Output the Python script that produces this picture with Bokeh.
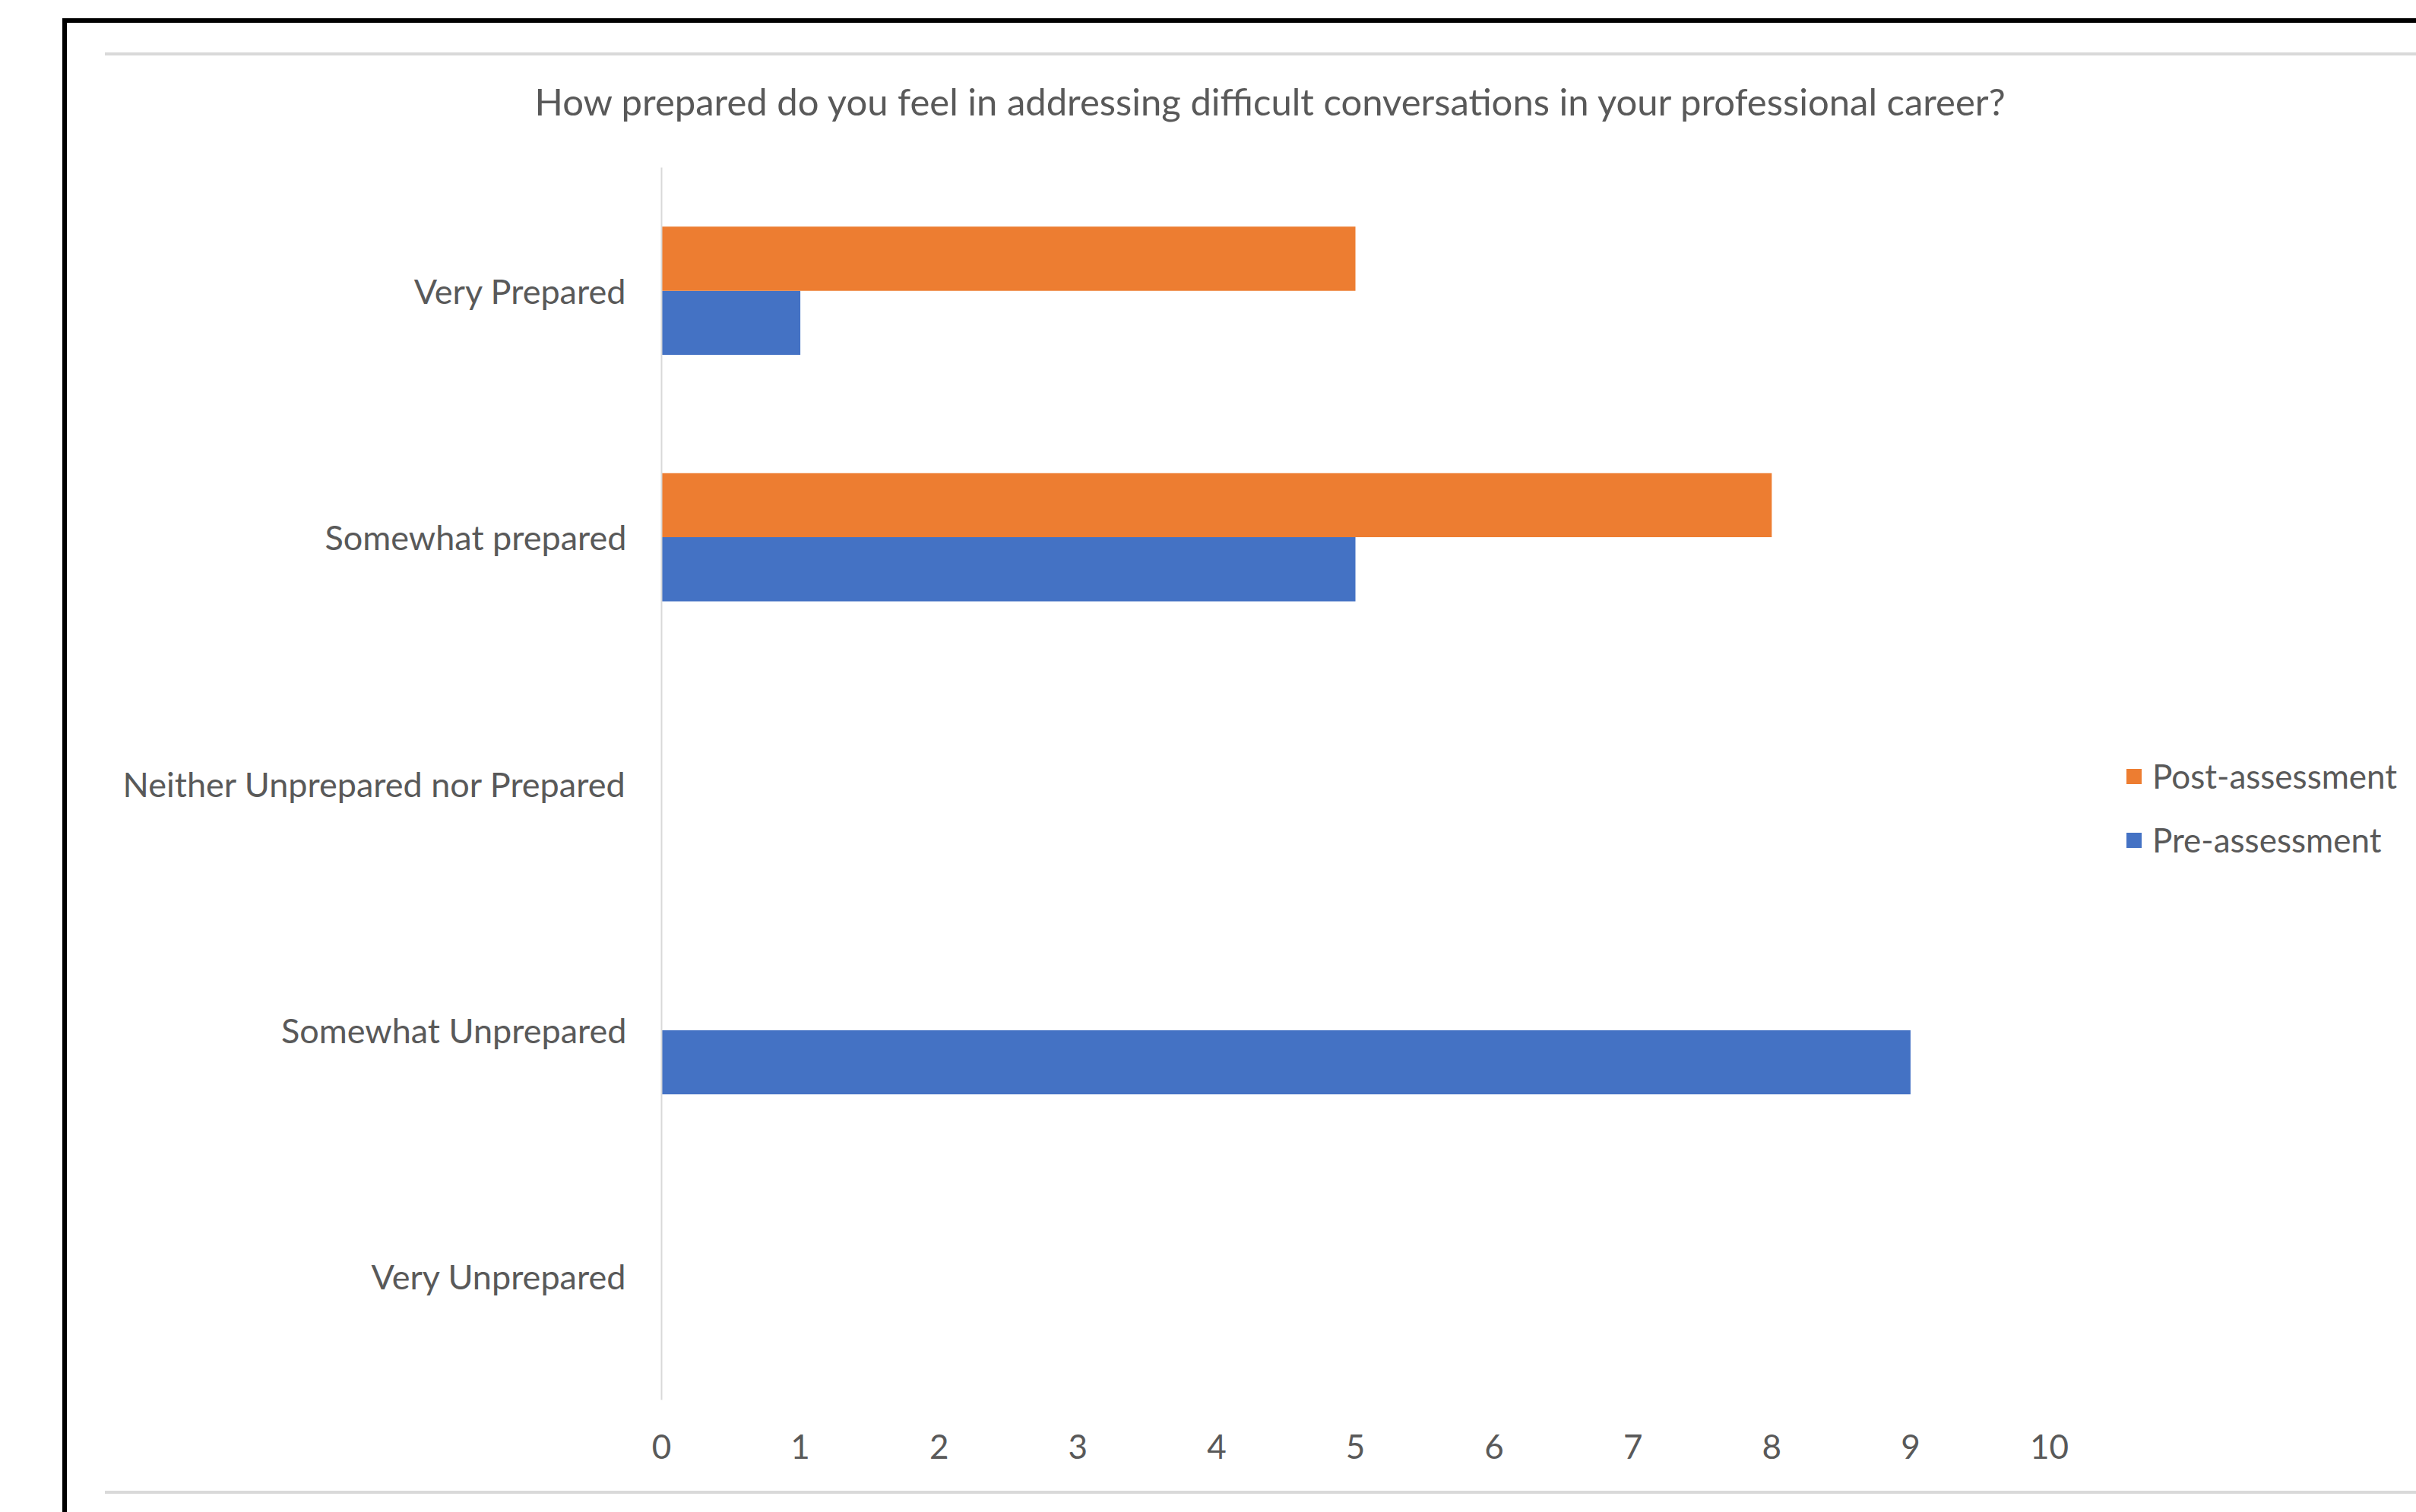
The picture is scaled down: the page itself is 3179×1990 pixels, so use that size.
from bokeh.plotting import figure
from bokeh.models import (FactorRange, Range1d, FixedTicker, Legend, LegendItem,
                          ColumnDataSource)
from bokeh.transform import dodge
from bokeh.embed import file_html
from bokeh.resources import INLINE

# ---- data ----
categories = ["Very Unprepared", "Somewhat Unprepared",
              "Neither Unprepared nor Prepared", "Somewhat prepared", "Very Prepared"]
pre_assessment = [0, 9, 0, 5, 1]
post_assessment = [0, 0, 0, 8, 5]
x_ticks = [0, 1, 2, 3, 4, 5, 6, 7, 8, 9, 10]
series_names = ["Post-assessment", "Pre-assessment"]
title_text = "How prepared do you feel in addressing difficult conversations in your professional career?"

FONT = "Lato"
TXT = "#595959"
BLUE = "#4472C4"
ORANGE = "#ED7D31"

W, H = 3179, 1990
FRAME_L, FRAME_T, FRAME_B = 870, 220, 1842
PX_PER_UNIT = 182.6
x_end = (W - FRAME_L) / PX_PER_UNIT

src = ColumnDataSource(dict(cat=categories, pre=pre_assessment, post=post_assessment))

# decorative frame of the original screenshot, painted as the element background
bg_styles = {
    "background-color": "white",
    "background-image": ("linear-gradient(#000000, #000000), linear-gradient(#000000, #000000), "
                         "linear-gradient(#d9d9d9, #d9d9d9), linear-gradient(#d9d9d9, #d9d9d9)"),
    "background-size": "6px 2000px, 3200px 6px, 3100px 4px, 3100px 4px",
    "background-position": "82px 24px, 82px 24px, 138px 69px, 138px 1962px",
    "background-repeat": "no-repeat",
}

p = figure(width=W, height=H,
           y_range=FactorRange(factors=categories, range_padding=0),
           x_range=Range1d(0, x_end),
           output_backend="svg", toolbar_location=None,
           min_border_left=FRAME_L, min_border_right=0,
           min_border_top=FRAME_T, min_border_bottom=H - FRAME_B,
           styles=bg_styles)
p.outline_line_color = None
p.xgrid.visible = False
p.ygrid.visible = False
p.background_fill_color = "white"
p.border_fill_color = None

# title
p.title.text = title_text
p.title.text_font = FONT
p.title.text_font_size = "49px"
p.title.text_font_style = "normal"
p.title.text_color = TXT
p.title.align = "left"
p.title.offset = -167
p.title.vertical_align = "middle"
p.title.standoff = 115

r_pre = p.hbar(y=dodge("cat", -0.13, range=p.y_range), left=0, right="pre", height=0.26,
               fill_color=BLUE, line_color=None, source=src)
r_post = p.hbar(y=dodge("cat", 0.13, range=p.y_range), left=0, right="post", height=0.26,
                fill_color=ORANGE, line_color=None, source=src)

# axes
p.xaxis.ticker = FixedTicker(ticks=x_ticks)
p.xaxis.axis_line_color = None
p.xaxis.major_tick_line_color = None
p.xaxis.minor_tick_line_color = None
p.xaxis.major_tick_out = 0
p.xaxis.major_label_standoff = 45
p.xaxis.major_label_text_font = FONT
p.xaxis.major_label_text_font_size = "44px"
p.xaxis.major_label_text_color = TXT

p.yaxis.axis_line_color = "#d9d9d9"
p.yaxis.axis_line_width = 2
p.yaxis.major_tick_line_color = None
p.yaxis.minor_tick_line_color = None
p.yaxis.major_tick_out = 0
p.yaxis.major_tick_in = 0
p.yaxis.major_label_standoff = 46
p.yaxis.major_label_text_font = FONT
p.yaxis.major_label_text_font_size = "45px"
p.yaxis.major_label_text_color = TXT

# legend
legend = Legend(items=[LegendItem(label=series_names[0], renderers=[r_post]),
                       LegendItem(label=series_names[1], renderers=[r_pre])],
                location=(1925, 711), orientation="vertical",
                padding=0, margin=0, spacing=32,
                glyph_width=25, glyph_height=25, label_height=52, label_standoff=12,
                label_text_font=FONT, label_text_font_size="44px", label_text_color=TXT,
                background_fill_alpha=0, border_line_color=None)
p.add_layout(legend)

open("out.html", "w").write(file_html(p, INLINE))
